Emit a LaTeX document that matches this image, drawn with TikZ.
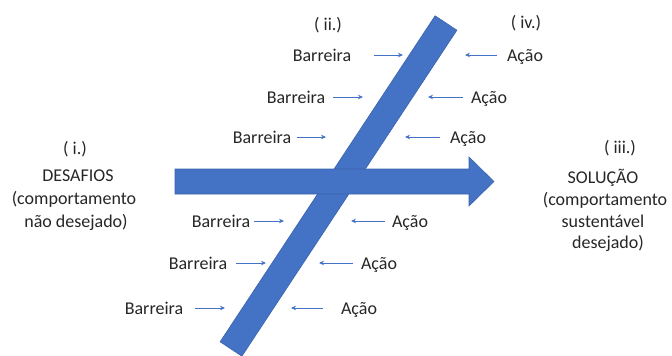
\documentclass[tikz,border=0pt]{standalone}
\usepackage{fontspec}
\setmainfont{Carlito}
\usetikzlibrary{arrows.meta}
\definecolor{obl}{HTML}{4472C4}
\definecolor{obd}{HTML}{3A63AD}
\definecolor{txt}{HTML}{262626}
\begin{document}
\begin{tikzpicture}[x=1pt,y=-1pt,
  lbl/.style={font=\fontsize{18}{22}\selectfont, inner sep=0pt, text=txt, anchor=base},
  ptr/.style={draw=obl, line width=0.8pt, -{Stealth[length=5pt,width=4.5pt]}},
  blueshape/.style={fill=obl, draw=obd, line width=0.6pt, line join=miter}]
\useasboundingbox (0,0) rectangle (672,356);

% diagonal bar
\path[blueshape] (435.1,15.8) -- (456.9,30.2) -- (241.9,356.2) -- (220.1,341.8) -- cycle;
% main arrow
\path[blueshape] (175,169) -- (469,169) -- (469,157) -- (494,181.5) -- (469,206) -- (469,194) -- (175,194) -- cycle;

% headers
\node[lbl] (hi)   at (75,154.5)  {( i.)};
\node[lbl] (hii)  at (328,30)    {( ii.)};
\node[lbl] (hiii) at (620,153.5) {( iii.)};
\node[lbl] (hiv)  at (526,28)    {( iv.)};

% left block
\node[lbl] (l1) at (78,181) {DESAFIOS};
\node[lbl] (l2) at (74,204) {(comportamento};
\node[lbl] (l3) at (76,227) {não desejado)};

% right block
\node[lbl] (r1) at (603,183) {SOLUÇÃO};
\node[lbl] (r2) at (605,205) {(comportamento};
\node[lbl] (r3) at (603,227) {sustentável};
\node[lbl] (r4) at (608,248) {desejado)};

% rows: y, barreira x, arrow start, arrow end, acao x, arrow start, arrow end
\foreach \n/\y/\bx/\bs/\be/\ax/\as/\ae in {
  1/55/322/374/403/525/497/465,
  2/97/296/333/363/489/463/428,
  3/137/262/297/326/468/440/405,
  4/221/221/254/284/410/385/351,
  5/263/198/236/266/379/353/319,
  6/308/154/195/225/359/323/291}{
  \node[lbl] (b\n) at (\bx,\y+6.5) {Barreira};
  \node[lbl] (a\n) at (\ax,\y+6.5) {Ação};
  \coordinate (bs\n) at (\bs,\y);
  \coordinate (be\n) at (\be,\y);
  \coordinate (as\n) at (\as,\y);
  \coordinate (ae\n) at (\ae,\y);
  \draw[ptr] (bs\n) -- (be\n);
  \draw[ptr] (as\n) -- (ae\n);
}
\end{tikzpicture}
\end{document}
